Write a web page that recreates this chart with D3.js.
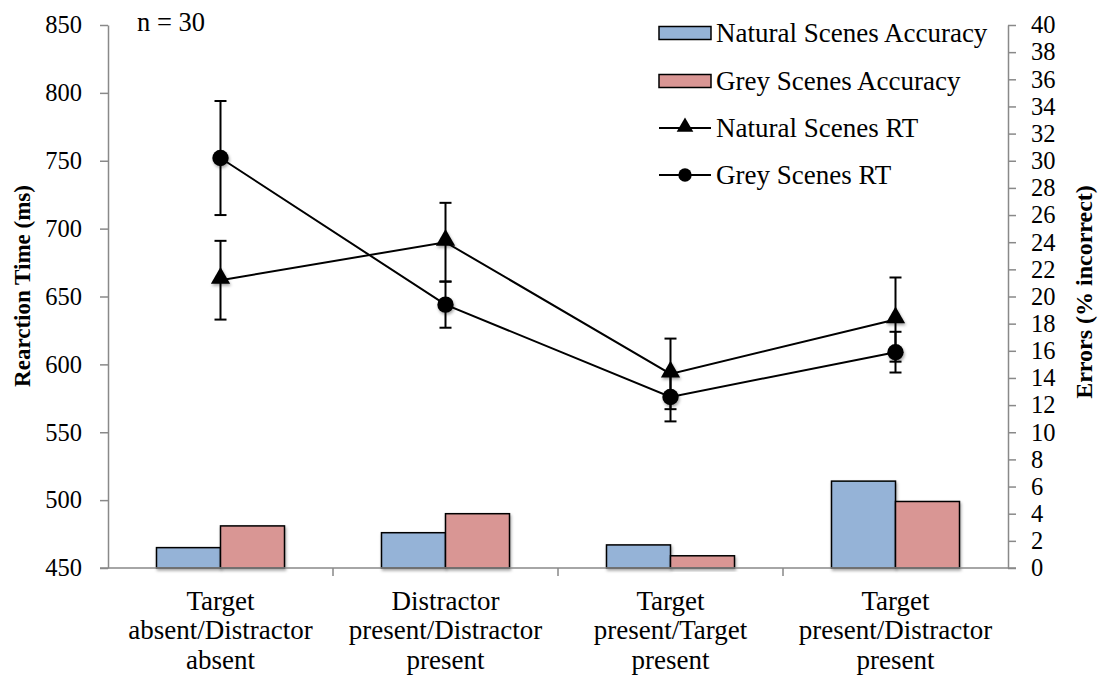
<!DOCTYPE html>
<html>
<head>
<meta charset="utf-8">
<script src="https://cdn.jsdelivr.net/npm/d3@7/dist/d3.min.js"></script>
<style>
  html, body { margin: 0; padding: 0; background: #fff; }
  svg { display: block; font-family: "Liberation Serif", "Times New Roman", serif; }
</style>
</head>
<body>
<svg id="chart" width="1098" height="675"></svg>
<script>
// Conditions (x categories), each label split into lines
const categories = [
  ["Target", "absent/Distractor", "absent"],
  ["Distractor", "present/Distractor", "present"],
  ["Target", "present/Target", "present"],
  ["Target", "present/Distractor", "present"]
];

// Mean reaction times (ms) with error bar half-widths
const naturalRT = [662, 690, 593, 633];
const naturalRTErr = [29, 29, 26, 31];
const greyRT = [752, 644, 576, 609];
const greyRTErr = [42, 17, 18, 15];

// Errors (% incorrect)
const naturalErrors = [1.5, 2.6, 1.7, 6.4];
const greyErrors = [3.1, 4.0, 0.9, 4.9];

// Axis ticks
const rtTicks = [450, 500, 550, 600, 650, 700, 750, 800, 850];
const errTicks = d3.range(0, 41, 2);

const seriesNames = ["Natural Scenes Accuracy", "Grey Scenes Accuracy", "Natural Scenes RT", "Grey Scenes RT"];

const svg = d3.select("#chart");
const plotLeft = 108, plotRight = 1008, plotTop = 25, plotBottom = 568;
const axisGrey = "#898989";
const blue = "#95B3D7", pink = "#D99694";

// soft drop shadow used on bars and markers
const defs = svg.append("defs");
const f = defs.append("filter").attr("id", "shadow").attr("x", "-30%").attr("y", "-30%").attr("width", "160%").attr("height", "160%");
f.append("feDropShadow").attr("dx", 1).attr("dy", 2).attr("stdDeviation", 1.6).attr("flood-color", "#000").attr("flood-opacity", 0.35);

const idx = categories.map((d, i) => i);
const x = d3.scaleBand().domain(idx).range([plotLeft, plotRight]).paddingInner(0).paddingOuter(0);
const yL = d3.scaleLinear().domain([450, 850]).range([plotBottom, plotTop]);
const yR = d3.scaleLinear().domain([0, 40]).range([plotBottom, plotTop]);
const groupW = 128;
const xs = d3.scaleBand().domain(["nat", "grey"]).range([0, groupW]);
const cx = i => x(i) + x.bandwidth() / 2;

// bars (right axis)
const barData = [];
idx.forEach(i => {
  barData.push({ i, k: "nat", v: naturalErrors[i], c: blue });
  barData.push({ i, k: "grey", v: greyErrors[i], c: pink });
});
svg.append("g").selectAll("rect").data(barData).join("rect")
  .attr("x", d => x(d.i) + (x.bandwidth() - groupW) / 2 + xs(d.k))
  .attr("y", d => yR(d.v))
  .attr("width", xs.bandwidth())
  .attr("height", d => yR(0) - yR(d.v))
  .attr("fill", d => d.c)
  .attr("stroke", "#000")
  .attr("stroke-width", 1.5)
  .attr("filter", "url(#shadow)");

// left axis
const gL = svg.append("g").attr("transform", `translate(${plotLeft},0)`)
  .call(d3.axisLeft(yL).tickValues(rtTicks).tickSize(8).tickSizeOuter(0).tickPadding(18));
// right axis
const gR = svg.append("g").attr("transform", `translate(${plotRight},0)`)
  .call(d3.axisRight(yR).tickValues(errTicks).tickSize(8).tickSizeOuter(0).tickPadding(15));
[gL, gR].forEach(g => {
  g.select(".domain").attr("stroke", axisGrey).attr("stroke-width", 1.5);
  g.selectAll(".tick line").attr("stroke", axisGrey).attr("stroke-width", 1.5);
  g.selectAll(".tick text").attr("fill", "#000").style("font-size", "24.5px")
    .style("font-family", "'Liberation Serif', serif");
});

// x axis baseline and boundary ticks
const gX = svg.append("g");
gX.append("line").attr("x1", plotLeft - 8).attr("x2", plotRight + 8).attr("y1", plotBottom).attr("y2", plotBottom)
  .attr("stroke", axisGrey).attr("stroke-width", 1.5);
gX.selectAll("line.tk").data(idx.slice(1)).join("line").attr("class", "tk")
  .attr("x1", d => x(d)).attr("x2", d => x(d)).attr("y1", plotBottom).attr("y2", plotBottom + 8)
  .attr("stroke", axisGrey).attr("stroke-width", 1.5);
const lab = gX.selectAll("text").data(idx).join("text")
  .attr("text-anchor", "middle").style("font-size", "27px").attr("fill", "#000");
lab.each(function (i) {
  const t = d3.select(this);
  categories[i].forEach((s, j) => {
    t.append("tspan").attr("x", cx(i)).attr("y", 610 + j * 29.3).text(s);
  });
});

// lines with error bars
function drawRT(vals, errs, marker) {
  const g = svg.append("g");
  const line = d3.line().x((d, i) => cx(i)).y(d => yL(d));
  g.append("path").datum(vals).attr("d", line).attr("fill", "none").attr("stroke", "#000").attr("stroke-width", 2);
  const eb = g.selectAll("g.eb").data(vals).join("g").attr("class", "eb");
  eb.append("line").attr("x1", (d, i) => cx(i)).attr("x2", (d, i) => cx(i))
    .attr("y1", (d, i) => yL(d + errs[i])).attr("y2", (d, i) => yL(d - errs[i]))
    .attr("stroke", "#000").attr("stroke-width", 2);
  [1, -1].forEach(sg => {
    eb.append("line").attr("x1", (d, i) => cx(i) - 6).attr("x2", (d, i) => cx(i) + 6)
      .attr("y1", (d, i) => yL(d + sg * errs[i])).attr("y2", (d, i) => yL(d + sg * errs[i]))
      .attr("stroke", "#000").attr("stroke-width", 2);
  });
  g.selectAll("path.m").data(vals).join("path").attr("class", "m")
    .attr("d", d3.symbol().type(marker === "tri" ? d3.symbolTriangle : d3.symbolCircle).size(marker === "tri" ? 160 : 210))
    .attr("transform", (d, i) => `translate(${cx(i)},${yL(d) + (marker === "tri" ? -2 : 0)})`)
    .attr("fill", "#000").attr("filter", "url(#shadow)");
}
drawRT(naturalRT, naturalRTErr, "tri");
drawRT(greyRT, greyRTErr, "circle");

// axis titles
svg.append("text").attr("transform", `translate(30,286) rotate(-90)`)
  .attr("text-anchor", "middle").style("font-size", "23px").style("font-weight", "bold")
  .text("Rearction Time (ms)");
svg.append("text").attr("transform", `translate(1092,292) rotate(-90)`)
  .attr("text-anchor", "middle").style("font-size", "24px").style("font-weight", "bold")
  .text("Errors (% incorrect)");

// sample size note
svg.append("text").attr("x", 137).attr("y", 31).style("font-size", "26.5px").text("n = 30");

// legend
const leg = svg.append("g");
const rowY = [33, 81, 128, 175];
seriesNames.forEach((name, j) => {
  const y = rowY[j];
  if (j < 2) {
    leg.append("rect").attr("x", 659).attr("y", y - 6.5).attr("width", 52).attr("height", 13)
      .attr("fill", j === 0 ? blue : pink).attr("stroke", "#000").attr("stroke-width", 1.5);
  } else {
    leg.append("line").attr("x1", 659).attr("x2", 711).attr("y1", y).attr("y2", y)
      .attr("stroke", "#000").attr("stroke-width", 2);
    leg.append("path")
      .attr("d", d3.symbol().type(j === 2 ? d3.symbolTriangle : d3.symbolCircle).size(j === 2 ? 120 : 140))
      .attr("transform", `translate(685,${y - (j === 2 ? 1 : 0)})`).attr("fill", "#000");
  }
  leg.append("text").attr("x", 716).attr("y", y + 9).style("font-size", "27px").text(name);
});
</script>
</body>
</html>
